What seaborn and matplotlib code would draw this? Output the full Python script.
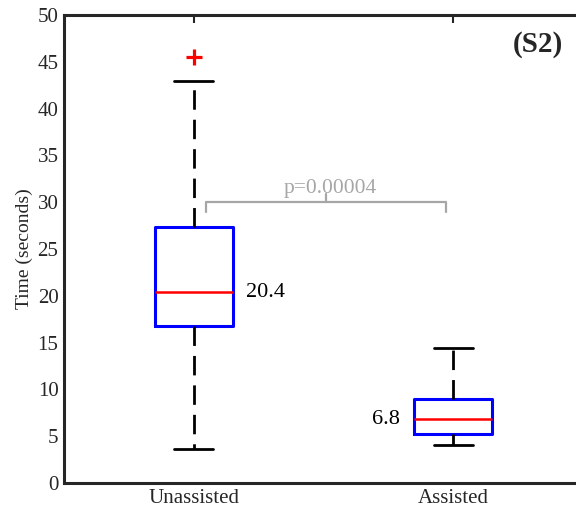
import numpy as np
import pandas as pd
import matplotlib
matplotlib.use("Agg")
import matplotlib.pyplot as plt
import seaborn as sns

# five-number summaries (min, q1, median, q3, max)
groups = ["Unassisted", "Assisted"]
unassisted = [3.6, 16.8, 20.4, 27.3, 42.9]
assisted = [4.1, 5.2, 6.8, 9.0, 14.4]
outlier_group = ["Unassisted"]
outlier_time = [45.5]
median_labels = ["20.4", "6.8"]
p_text = "p=0.00004"
panel_label = "(S2)"

df = pd.DataFrame({
    "group": [groups[0]] * len(unassisted) + [groups[1]] * len(assisted),
    "time": unassisted + assisted,
})
df_out = pd.DataFrame({"group": outlier_group, "time": outlier_time})

sns.set_style("white")
plt.rcParams["font.family"] = ["Liberation Serif", "DejaVu Serif"]
dark = "#262626"

fig = plt.figure(figsize=(5.76, 5.14), dpi=100)
ax = fig.add_axes([64 / 576, 1 - 483 / 514, 519 / 576, 468 / 514])

sns.boxplot(data=df, x="group", y="time", order=groups, ax=ax, width=0.3,
            whis=(0, 100), fill=False, linecolor="blue", showfliers=False,
            boxprops=dict(color="blue", linewidth=2.2),
            medianprops=dict(color="red", linewidth=1.8),
            whiskerprops=dict(color="black", linewidth=2.0, linestyle=(0, (7, 3.6))),
            capprops=dict(color="black", linewidth=2.0))

sns.scatterplot(data=df_out, x="group", y="time", ax=ax, marker="+", s=140,
                color="red", linewidth=2.3, zorder=5)

# median annotations
meds = [unassisted[2], assisted[2]]
ax.text(0 + 0.2, meds[0], median_labels[0], ha="left", va="center", fontsize=16, color="black")
ax.text(1 - 0.205, meds[1], median_labels[1], ha="right", va="center", fontsize=16, color="black")

# significance bracket
gray = "#a6a6a6"
bx0, bx1, by = 0.046, 0.973, 30.0
ax.plot([bx0, bx0, bx1, bx1], [by - 1.0, by, by, by - 1.0], color=gray, lw=1.6, clip_on=False)
xm = (bx0 + bx1) / 2
ax.plot([xm, xm], [by, by + 0.9], color=gray, lw=1.6)
ax.text(0.527, by + 0.45, p_text, ha="center", va="bottom", fontsize=15.5, color=gray)

ax.text(0.913, 0.936, panel_label, transform=ax.transAxes, ha="center", va="center",
        fontsize=21, fontweight="bold", color=dark)

ax.set_xlim(-0.5, 1.5)
ax.set_ylim(0, 50)
ax.set_yticks(np.arange(0, 51, 5))
ax.set_xlabel("")
ax.set_ylabel("Time (seconds)", fontsize=14, color=dark, labelpad=3)
ax.tick_params(axis="both", direction="in", length=6, width=1.5, colors=dark,
               labelsize=15, top=True, right=False, pad=4)
for s in ax.spines.values():
    s.set_visible(True)
    s.set_color(dark)
    s.set_linewidth(2.2)

fig.savefig("out.png", dpi=100)
